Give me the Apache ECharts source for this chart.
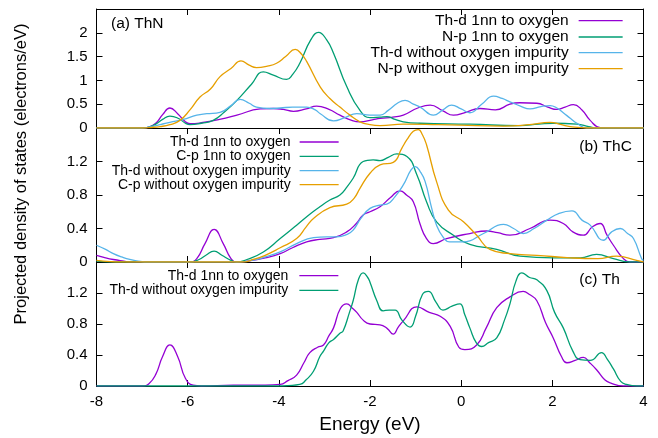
<!DOCTYPE html>
<html>
<head>
<meta charset="utf-8">
<script src="https://cdn.jsdelivr.net/npm/echarts@6/dist/echarts.min.js"></script>
<style>
html,body{margin:0;padding:0;background:#fff;}
#chart{width:658px;height:438px;}
</style>
</head>
<body>
<div id="chart"></div>
<script>
// ---------- Panel (a) ThN ----------
const aThd1nnE = [-8,-7.0,-6.85,-6.7,-6.55,-6.39,-6.22,-6.05,-5.95,-5.7,-5.3,-4.92,-4.41,-4.12,-3.9,-3.68,-3.4,-3.17,-2.9,-2.66,-2.4,-2.22,-1.95,-1.78,-1.5,-1.27,-0.95,-0.68,-0.4,-0.17,0.1,0.41,0.75,1.07,1.29,1.66,1.9,2.10,2.28,2.46,2.65,2.83,3.05,3.3,4];
const aThd1nnV = [0,0,0.02,0.1,0.28,0.42,0.3,0.13,0.09,0.11,0.18,0.27,0.4,0.41,0.39,0.35,0.4,0.46,0.39,0.27,0.16,0.13,0.17,0.2,0.23,0.27,0.42,0.48,0.36,0.27,0.33,0.41,0.38,0.5,0.53,0.52,0.44,0.39,0.44,0.49,0.38,0.16,0.01,0,0];

const aNp1nnE = [-8,-7.0,-6.85,-6.7,-6.55,-6.39,-6.2,-6.05,-5.95,-5.7,-5.44,-5.2,-4.92,-4.6,-4.34,-4.12,-3.83,-3.7,-3.54,-3.3,-3.13,-2.95,-2.8,-2.51,-2.22,-2.0,-1.78,-1.63,-1.45,-1.27,-0.9,0.19,1.29,1.7,2.02,2.54,2.8,2.97,4];
const aNp1nnV = [0,0,0.02,0.08,0.18,0.25,0.2,0.1,0.07,0.1,0.16,0.33,0.58,0.92,1.18,1.11,1.02,1.12,1.36,1.85,2.01,1.85,1.57,0.87,0.37,0.22,0.23,0.24,0.18,0.13,0.1,0.08,0.05,0.08,0.1,0.08,0.03,0,0];

const aThdNoOE = [-8,-7.0,-6.9,-6.6,-6.39,-6.1,-5.8,-5.58,-5.29,-5.05,-4.85,-4.65,-4.49,-4.2,-3.97,-3.7,-3.39,-3.2,-3.09,-2.8,-2.55,-2.29,-2.0,-1.78,-1.6,-1.4,-1.23,-1.05,-0.9,-0.61,-0.4,-0.21,0.0,0.19,0.45,0.71,0.9,1.07,1.3,1.51,1.75,1.95,2.1,2.24,2.4,2.54,2.75,4];
const aThdNoOV = [0,0,0.01,0.07,0.12,0.18,0.27,0.3,0.33,0.47,0.6,0.52,0.44,0.41,0.42,0.44,0.44,0.38,0.3,0.15,0.22,0.3,0.27,0.27,0.37,0.52,0.58,0.5,0.44,0.27,0.38,0.48,0.4,0.32,0.5,0.67,0.62,0.55,0.46,0.4,0.45,0.47,0.42,0.32,0.2,0.1,0,0];

const aNpNoOE = [-8,-7.0,-6.85,-6.6,-6.39,-6.17,-5.95,-5.73,-5.5,-5.29,-5.05,-4.83,-4.65,-4.49,-4.25,-4.05,-3.85,-3.64,-3.5,-3.39,-3.09,-2.88,-2.66,-2.44,-2.22,-2.0,-1.78,-1.27,-0.5,-0.03,0.92,1.5,1.95,2.2,2.39,2.75,4];
const aNpNoOV = [0,0,0.01,0.03,0.07,0.16,0.38,0.65,0.82,1.08,1.25,1.41,1.32,1.27,1.3,1.36,1.5,1.65,1.55,1.4,0.86,0.62,0.44,0.27,0.13,0.07,0.05,0.08,0.07,0.06,0.04,0.07,0.12,0.07,0.03,0,0];

// ---------- Panel (b) ThC ----------
const bThd1nnE = [-8,-7.8,-7.63,-7.4,-7.27,-5.95,-5.8,-5.62,-5.42,-5.22,-5.05,-4.92,-4.7,-4.3,-3.97,-3.7,-3.39,-3.1,-2.8,-2.51,-2.3,-2.15,-2.0,-1.78,-1.55,-1.34,-1.2,-1.05,-0.9,-0.76,-0.61,-0.32,0.19,0.56,0.8,1.07,1.51,1.95,2.24,2.45,2.68,2.88,3.05,3.2,3.34,3.56,3.7,4];
const bThd1nnV = [0.08,0.05,0.03,0.01,0,0,0.04,0.22,0.39,0.22,0.04,0,0.01,0.05,0.1,0.17,0.24,0.27,0.29,0.36,0.46,0.56,0.6,0.66,0.77,0.85,0.8,0.72,0.45,0.28,0.22,0.28,0.34,0.37,0.35,0.32,0.4,0.5,0.46,0.36,0.32,0.42,0.46,0.32,0.2,0.04,0,0];

const bCp1nnE = [-8,-7.6,-5.95,-5.75,-5.6,-5.42,-5.25,-5.05,-4.92,-4.7,-4.34,-3.97,-3.61,-3.3,-3.1,-2.88,-2.66,-2.5,-2.37,-2.15,-1.93,-1.78,-1.6,-1.41,-1.19,-0.97,-0.76,-0.54,-0.17,0.19,0.78,1.29,2.02,2.61,2.97,3.34,3.7,4];
const bCp1nnV = [0.01,0,0,0.03,0.08,0.13,0.08,0.02,0,0.03,0.12,0.28,0.44,0.58,0.66,0.74,0.8,0.9,1.0,1.2,1.22,1.21,1.25,1.29,1.26,1.04,0.72,0.48,0.32,0.21,0.15,0.07,0.05,0.05,0.09,0.04,0,0];

const bThdNoOE = [-8,-7.8,-7.63,-7.45,-7.27,-7.0,-6.9,-4.92,-4.6,-4.3,-3.97,-3.61,-3.24,-2.95,-2.73,-2.5,-2.37,-2.2,-2.0,-1.78,-1.63,-1.45,-1.27,-1.1,-1.01,-0.9,-0.79,-0.65,-0.54,-0.4,-0.25,0.05,0.49,0.93,1.15,1.36,1.6,1.88,2.15,2.43,2.65,2.83,3.12,3.3,3.49,3.65,3.78,3.96,4];
const bThdNoOV = [0.2,0.15,0.1,0.06,0.03,0.005,0,0,0.02,0.06,0.12,0.22,0.29,0.3,0.3,0.33,0.38,0.52,0.64,0.68,0.69,0.78,0.92,1.1,1.14,1.08,0.96,0.65,0.44,0.3,0.24,0.24,0.34,0.45,0.4,0.34,0.4,0.5,0.58,0.61,0.5,0.44,0.26,0.36,0.4,0.34,0.28,0.04,0.02];

const bCpNoOE = [-8,-7.7,-7.5,-4.8,-4.56,-4.3,-3.97,-3.61,-3.4,-3.24,-2.88,-2.51,-2.35,-2.22,-2.0,-1.78,-1.49,-1.3,-1.19,-1.05,-0.94,-0.85,-0.76,-0.54,-0.28,0.05,0.34,0.63,1.07,1.66,2.39,3.0,3.41,3.85,4];
const bCpNoOV = [0.02,0.005,0,0,0.03,0.08,0.17,0.28,0.42,0.52,0.65,0.69,0.76,0.88,1.06,1.16,1.19,1.36,1.46,1.56,1.58,1.52,1.4,0.96,0.62,0.48,0.32,0.15,0.1,0.08,0.05,0.04,0.07,0.02,0];

// ---------- Panel (c) Th ----------
const cThd1nnE = [-8,-7.0,-6.85,-6.7,-6.55,-6.39,-6.22,-6.05,-5.88,-5.7,-5.0,-4.3,-3.97,-3.8,-3.61,-3.45,-3.32,-3.15,-3.02,-2.9,-2.8,-2.65,-2.51,-2.38,-2.29,-2.15,-2.0,-1.78,-1.62,-1.49,-1.38,-1.27,-0.97,-0.7,-0.46,-0.24,-0.05,0.08,0.34,0.55,0.78,1.07,1.36,1.5,1.66,1.85,2.02,2.2,2.32,2.5,2.68,2.82,2.97,3.15,3.27,3.56,4];
const cThd1nnV = [0,0,0.03,0.15,0.38,0.53,0.38,0.1,0.01,0,0.01,0.01,0.02,0.07,0.14,0.3,0.43,0.5,0.53,0.65,0.75,1.0,1.06,1.0,0.95,0.85,0.8,0.79,0.74,0.67,0.76,0.84,1.02,0.95,0.9,0.77,0.5,0.47,0.53,0.75,1.01,1.15,1.22,1.18,1.1,0.82,0.62,0.38,0.3,0.33,0.37,0.3,0.21,0.08,0.04,0,0];

const cThdNoOE = [-8,-4.0,-3.8,-3.54,-3.4,-3.24,-3.1,-3.02,-2.9,-2.8,-2.66,-2.59,-2.45,-2.37,-2.25,-2.15,-2.05,-2.0,-1.85,-1.71,-1.58,-1.45,-1.3,-1.12,-1.0,-0.85,-0.72,-0.55,-0.4,-0.2,-0.03,0.08,0.19,0.33,0.45,0.6,0.78,0.95,1.07,1.2,1.33,1.5,1.66,1.88,2.05,2.24,2.45,2.61,2.83,3.08,3.2,3.34,3.5,3.63,3.85,4];
const cThdNoOV = [0,0,0.005,0.02,0.08,0.19,0.38,0.45,0.56,0.6,0.68,0.71,0.95,1.1,1.38,1.46,1.4,1.34,1.1,0.97,0.98,0.98,0.85,0.76,0.9,1.18,1.22,1.08,0.98,1.03,1.06,0.92,0.75,0.56,0.51,0.56,0.62,0.85,1.06,1.35,1.46,1.4,1.37,1.23,0.95,0.75,0.45,0.34,0.33,0.43,0.35,0.22,0.06,0.02,0,0];

// ---------- Labels ----------
const panelLabels = ['(a) ThN', '(b) ThC', '(c) Th'];
const legendA = ['Th-d 1nn to oxygen', 'N-p 1nn to oxygen', 'Th-d without oxygen impurity', 'N-p without oxygen impurity'];
const legendB = ['Th-d 1nn to oxygen', 'C-p 1nn to oxygen', 'Th-d without oxygen impurity', 'C-p without oxygen impurity'];
const legendC = ['Th-d 1nn to oxygen', 'Th-d without oxygen impurity'];
const yMaxes = [2.5, 1.6, 1.6];
const yIntervals = [0.5, 0.4, 0.4];
const xTitle = 'Energy (eV)';
const yTitle = 'Projected density of states (electrons/eV)';

const PURPLE = '#9400d3', GREEN = '#009e73', BLUE = '#56b4e9', ORANGE = '#e69f00';
const FONT = 'Liberation Sans, Arial, Helvetica, sans-serif';

function pairs(E, V) { return E.map((e, i) => [e, V[i]]); }

const grids = [
  {left: 96.5, top: 9, width: 547, height: 119},
  {left: 96.5, top: 128, width: 547, height: 134},
  {left: 96.5, top: 262, width: 547, height: 124}
].map(g => Object.assign({outerBoundsMode: 'none', containLabel: false}, g));

const xAxes = [], yAxes = [];
for (let i = 0; i < 3; i++) {
  xAxes.push({
    gridIndex: i, type: 'value', position: 'bottom', min: -8, max: 4, interval: 2,
    axisLine: {show: true, onZero: false, lineStyle: {color: '#000', width: 1}},
    axisTick: {show: i > 0, inside: true, length: 6, lineStyle: {color: '#000', width: 1}},
    axisLabel: {show: i === 2, margin: 8, fontSize: 15, fontFamily: FONT, color: '#000'},
    splitLine: {show: false}
  });
  xAxes.push({
    gridIndex: i, type: 'value', position: 'top', min: -8, max: 4, interval: 2,
    axisLine: {show: true, onZero: false, lineStyle: {color: '#000', width: 1}},
    axisTick: {show: true, inside: true, length: 6, lineStyle: {color: '#000', width: 1}},
    axisLabel: {show: false}, splitLine: {show: false}
  });
  yAxes.push({
    gridIndex: i, type: 'value', position: 'left', min: 0, max: yMaxes[i], interval: yIntervals[i],
    axisLine: {show: true, onZero: false, lineStyle: {color: '#000', width: 1}},
    axisTick: {show: true, inside: true, length: 6, lineStyle: {color: '#000', width: 1}},
    axisLabel: {show: true, showMaxLabel: false, margin: 9, fontSize: 15, fontFamily: FONT, color: '#000'},
    splitLine: {show: false}
  });
  yAxes.push({
    gridIndex: i, type: 'value', position: 'right', min: 0, max: yMaxes[i], interval: yIntervals[i],
    axisLine: {show: true, onZero: false, lineStyle: {color: '#000', width: 1}},
    axisTick: {show: true, inside: true, length: 6, lineStyle: {color: '#000', width: 1}},
    axisLabel: {show: false}, splitLine: {show: false}
  });
}

function mkSeries(name, panel, E, V, color) {
  return {
    name: name, type: 'line', xAxisIndex: panel * 2, yAxisIndex: panel * 2,
    data: pairs(E, V), smooth: 0.5, symbol: 'none', showSymbol: false,
    lineStyle: {color: color, width: 1.3}, itemStyle: {color: color},
    animation: false, silent: true, clip: true
  };
}

const series = [
  mkSeries(legendA[0] + '#a', 0, aThd1nnE, aThd1nnV, PURPLE),
  mkSeries(legendA[1] + '#a', 0, aNp1nnE, aNp1nnV, GREEN),
  mkSeries(legendA[2] + '#a', 0, aThdNoOE, aThdNoOV, BLUE),
  mkSeries(legendA[3] + '#a', 0, aNpNoOE, aNpNoOV, ORANGE),
  mkSeries(legendB[0] + '#b', 1, bThd1nnE, bThd1nnV, PURPLE),
  mkSeries(legendB[1] + '#b', 1, bCp1nnE, bCp1nnV, GREEN),
  mkSeries(legendB[2] + '#b', 1, bThdNoOE, bThdNoOV, BLUE),
  mkSeries(legendB[3] + '#b', 1, bCpNoOE, bCpNoOV, ORANGE),
  mkSeries(legendC[0] + '#c', 2, cThd1nnE, cThd1nnV, PURPLE),
  mkSeries(legendC[1] + '#c', 2, cThdNoOE, cThdNoOV, GREEN)
];

function mkLegend(name, right, centerY, itemWidth, fontSize, gapPad) {
  return {
    data: [name], orient: 'vertical', align: 'right', right: right, top: centerY - 10,
    itemWidth: itemWidth, itemHeight: 20, itemGap: 0, padding: 0, selectedMode: false,
    itemStyle: {opacity: 0, borderWidth: 0},
    lineStyle: {width: 1.3},
    formatter: n => n.split('#')[0],
    textStyle: {fontSize: fontSize, fontFamily: FONT, color: '#000', padding: [0, gapPad, 0, 0]}
  };
}
const legends = [];
[22.7, 39, 54.7, 70.7].forEach((cy, i) => legends.push(mkLegend(legendA[i] + '#a', 34.7, cy, 44, 15.5, 5)));
[144, 158.3, 172.7, 186.7].forEach((cy, i) => legends.push(mkLegend(legendB[i] + '#b', 318.7, cy, 39, 14, 4)));
[277.7, 292.3].forEach((cy, i) => legends.push(mkLegend(legendC[i] + '#c', 319, cy, 39, 14, 6)));

const graphics = [
  {type: 'text', x: 111, y: 24, style: {text: panelLabels[0], font: '15.5px ' + FONT, fill: '#000', align: 'left', verticalAlign: 'middle'}},
  {type: 'text', x: 579.3, y: 146.7, style: {text: panelLabels[1], font: '15.5px ' + FONT, fill: '#000', align: 'left', verticalAlign: 'middle'}},
  {type: 'text', x: 579.3, y: 279.3, style: {text: panelLabels[2], font: '15.5px ' + FONT, fill: '#000', align: 'left', verticalAlign: 'middle'}},
  {type: 'text', x: 370, y: 425, style: {text: xTitle, font: '19px ' + FONT, fill: '#000', align: 'center', verticalAlign: 'middle'}},
  {type: 'text', x: 21, y: 174, rotation: Math.PI / 2, style: {text: yTitle, font: '16.5px ' + FONT, fill: '#000', align: 'center', verticalAlign: 'middle'}}
];

const chart = echarts.init(document.getElementById('chart'), null, {renderer: 'canvas', width: 658, height: 438});
chart.setOption({
  backgroundColor: '#fff',
  animation: false,
  grid: grids,
  xAxis: xAxes,
  yAxis: yAxes,
  legend: legends,
  series: series,
  graphic: graphics
});
</script>
</body>
</html>
